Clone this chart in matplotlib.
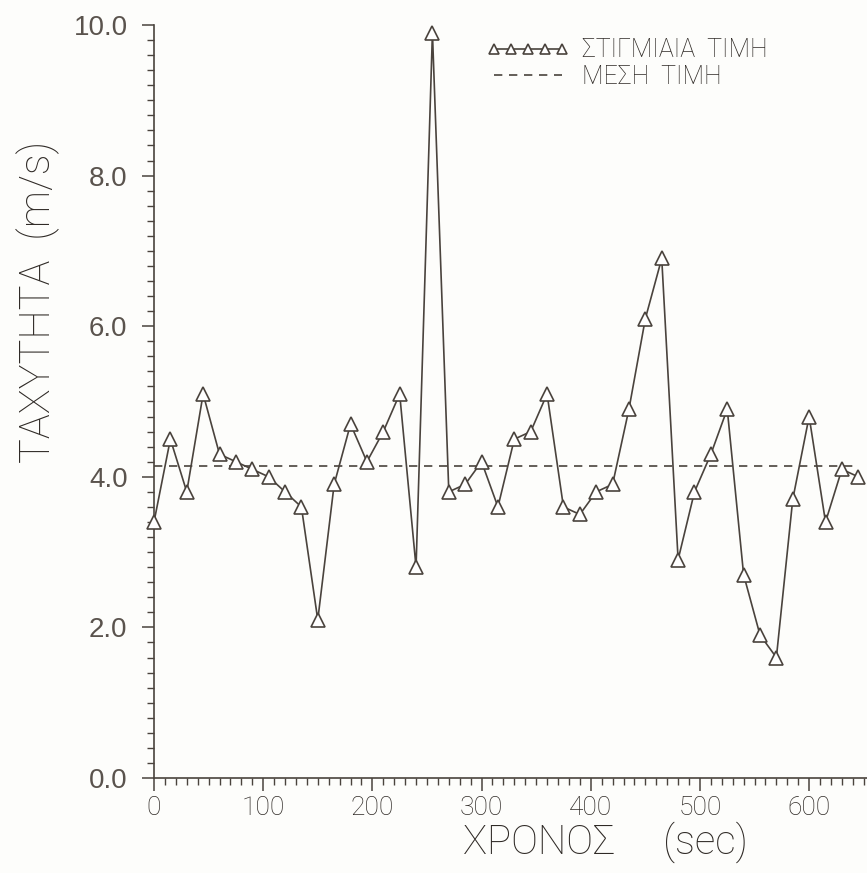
import numpy as np
import matplotlib
matplotlib.use("Agg")
import matplotlib.pyplot as plt
from matplotlib.ticker import MultipleLocator, FormatStrFormatter

# Data: one sample every 15 sec
time_sec = np.arange(0, 646, 15)
speed = [3.4, 4.5, 3.8, 5.1, 4.3, 4.2, 4.1, 4.0, 3.8, 3.6,
         2.1, 3.9, 4.7, 4.2, 4.6, 5.1, 2.8, 9.9, 3.8, 3.9,
         4.2, 3.6, 4.5, 4.6, 5.1, 3.6, 3.5, 3.8, 3.9, 4.9,
         6.1, 6.9, 2.9, 3.8, 4.3, 4.9, 2.7, 1.9, 1.6, 3.7,
         4.8, 3.4, 4.1, 4.0]
mean_speed = np.mean(speed)

x_ticks = [0, 100, 200, 300, 400, 500, 600]
y_ticks = [0.0, 2.0, 4.0, 6.0, 8.0, 10.0]

ink = '#4a433d'
text_ink = '#2f2a26'
thin = ['Roboto', 'DejaVu Sans']
plt.rcParams['font.family'] = ['Liberation Sans', 'DejaVu Sans']
plt.rcParams['text.color'] = text_ink

fig = plt.figure(figsize=(8.67, 8.73), dpi=100)
fig.patch.set_facecolor('#fdfdfb')
ax = fig.add_axes([154 / 867, 95 / 873, 1 - 154 / 867, 753 / 873])
ax.set_facecolor('#fdfdfb')

ax.plot(time_sec, speed, color=ink, lw=1.2, marker='^', markersize=10,
        markerfacecolor='white', markeredgecolor=ink, markeredgewidth=1.2,
        label='ΣΤΙΓΜΙΑΙΑ  ΤΙΜΗ', clip_on=False, zorder=3)
ax.plot([time_sec[0], time_sec[-1]], [mean_speed, mean_speed], color=ink,
        lw=1.2, linestyle=(0, (5, 4)), label='ΜΕΣΗ  ΤΙΜΗ', zorder=2)

ax.set_xlim(0, 653)
ax.set_ylim(0, 10)
ax.set_xticks(x_ticks)
ax.set_yticks(y_ticks)
ax.xaxis.set_minor_locator(MultipleLocator(10))
ax.yaxis.set_minor_locator(MultipleLocator(0.2))
ax.yaxis.set_major_formatter(FormatStrFormatter('%.1f'))

for side in ['top', 'right']:
    ax.spines[side].set_visible(False)
for side in ['left', 'bottom']:
    ax.spines[side].set_color(ink)
    ax.spines[side].set_linewidth(1.2)

ax.tick_params(which='major', direction='out', length=9, width=1.1, color=ink)
ax.tick_params(which='minor', direction='out', length=5, width=1.0, color=ink)
ax.tick_params(axis='y', labelsize=20, pad=10, labelcolor='#5a534d')
ax.tick_params(axis='x', labelsize=19, pad=4, labelcolor=text_ink)
for lab in ax.get_xticklabels():
    lab.set_family(thin)
    lab.set_fontweight('light')

ax.set_xlabel('ΧΡΟΝΟΣ     (sec)', fontsize=29, color=text_ink, labelpad=1,
              x=0.633, family=thin, fontweight='light')
ax.set_ylabel('ΤΑΧΥΤΗΤΑ  (m/s)', fontsize=30, color=text_ink, labelpad=10,
              y=0.632, family=thin, fontweight='light')

leg = ax.legend(loc='upper left', bbox_to_anchor=(0.435, 1.012), frameon=False,
                numpoints=5, handlelength=3.3, labelspacing=0.1,
                handletextpad=0.5, markerscale=0.75, labelcolor=text_ink,
                prop={'family': thin, 'weight': 'light', 'size': 18})

fig.savefig('out.png', dpi=100, facecolor=fig.get_facecolor())
